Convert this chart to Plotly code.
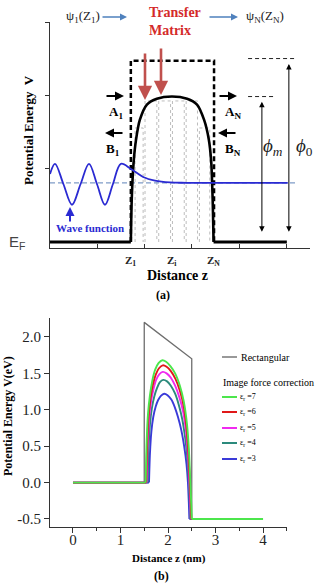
import plotly.graph_objects as go

W, H = 321, 583
SERIF = "Liberation Serif, Times New Roman, serif"


def px(x):
    return x / W


def py(y):
    return 1 - y / H


# ---------------- Panel (a): schematic data ----------------
barrier_z = [1.71, 1.73, 1.77, 1.82, 1.90, 2.05, 2.26, 2.58, 2.90, 3.11, 3.26, 3.36, 3.41, 3.44, 3.46]
barrier_v = [0.0, 0.60, 1.10, 1.40, 1.67, 1.88, 1.96, 1.99, 1.96, 1.88, 1.67, 1.40, 1.10, 0.60, 0.0]
a_left_z = [0.0, 1.71]
a_right_z = [3.46, 5.01]
rect_a_z = [1.71, 1.71, 3.47, 3.47]
rect_a_v = [0.0, 2.48, 2.48, 0.0]
slice_edges = [1.80, 1.99, 2.28, 2.57, 2.86, 3.14, 3.38]
slice_tops = [1.56, 1.93, 1.93, 1.93, 1.93, 1.56]
wave_z = [0.0, 0.106, 0.285, 0.465, 0.645, 0.825, 0.995, 1.163, 1.33, 1.50, 1.71, 1.97, 2.22, 2.54, 2.90, 5.03]
wave_v = [0.93, 1.07, 0.79, 0.51, 0.79, 1.07, 0.79, 0.51, 0.79, 1.07, 1.00, 0.89, 0.84, 0.815, 0.81, 0.81]
energy_level_z = [0.0, 5.22]
energy_level_v = 0.81
phi_m = 1.99
phi_0 = 2.51
z_marks = [1.71, 2.58, 3.45]
z_mark_labels = ["Z<sub>1</sub>", "Z<sub>i</sub>", "Z<sub>N</sub>"]

# ---------------- Panel (b): data ----------------
rect_z = [0.0, 1.5, 1.5, 2.5, 2.5, 4.0]
rect_v = [0.0, 0.0, 2.2, 1.7, -0.5, -0.5]

z_eps7 = [1.53, 1.55, 1.58, 1.62, 1.67, 1.73, 1.80, 1.88, 1.96, 2.05, 2.15, 2.25, 2.33, 2.40, 2.44, 2.47, 2.49, 2.50]
v_eps7 = [0.0, 0.55, 0.95, 1.20, 1.40, 1.55, 1.64, 1.68, 1.66, 1.60, 1.50, 1.33, 1.12, 0.80, 0.45, 0.0, -0.3, -0.5]
z_eps6 = [1.54, 1.56, 1.59, 1.63, 1.68, 1.74, 1.81, 1.89, 1.97, 2.06, 2.16, 2.25, 2.33, 2.39, 2.43, 2.46, 2.48, 2.49]
v_eps6 = [0.0, 0.50, 0.90, 1.15, 1.34, 1.48, 1.57, 1.61, 1.59, 1.53, 1.42, 1.26, 1.05, 0.75, 0.40, 0.0, -0.3, -0.5]
z_eps5 = [1.55, 1.57, 1.60, 1.64, 1.69, 1.75, 1.82, 1.89, 1.97, 2.06, 2.15, 2.24, 2.32, 2.38, 2.42, 2.45, 2.47, 2.48]
v_eps5 = [0.0, 0.48, 0.85, 1.10, 1.27, 1.41, 1.49, 1.52, 1.50, 1.44, 1.33, 1.17, 0.97, 0.70, 0.38, 0.0, -0.3, -0.5]
z_eps4 = [1.57, 1.59, 1.62, 1.66, 1.71, 1.77, 1.83, 1.90, 1.98, 2.06, 2.15, 2.23, 2.30, 2.36, 2.41, 2.44, 2.46, 2.47]
v_eps4 = [0.0, 0.45, 0.80, 1.02, 1.18, 1.30, 1.38, 1.41, 1.39, 1.33, 1.22, 1.06, 0.87, 0.62, 0.32, 0.0, -0.3, -0.5]
z_eps3 = [1.60, 1.62, 1.65, 1.69, 1.74, 1.79, 1.85, 1.92, 1.99, 2.07, 2.14, 2.21, 2.28, 2.34, 2.39, 2.42, 2.44, 2.45]
v_eps3 = [0.0, 0.40, 0.70, 0.90, 1.04, 1.13, 1.19, 1.22, 1.20, 1.14, 1.04, 0.90, 0.72, 0.50, 0.25, 0.0, -0.3, -0.5]

b_z_start = 0.0
b_z_end = 4.0
b_v_left = 0.0
b_v_right = -0.5

eps_labels = ["7", "6", "5", "4", "3"]
eps_colors = ["#4ce64c", "#e01818", "#f02af0", "#2b8a7c", "#3a3ad8"]

xb_tickvals = [0, 1, 2, 3, 4]
yb_tickvals = [-0.5, 0.0, 0.5, 1.0, 1.5, 2.0]
yb_ticktext = ["-0.5", "0.0", "0.5", "1.0", "1.5", "2.0"]

fig = go.Figure()

# ---------- Panel (a) traces ----------
sx, sy = [], []
gap = 0.02
for i, top in enumerate(slice_tops):
    x0 = slice_edges[i] + (gap if i > 0 else 0)
    x1 = slice_edges[i + 1] - (gap if i < len(slice_tops) - 1 else 0)
    sx += [x0, x0, x1, x1, None]
    sy += [0, top, top, 0, None]
fig.add_trace(go.Scatter(x=sx, y=sy, mode="lines", xaxis="x", yaxis="y",
                         line=dict(color="#b4b4b4", width=0.9, dash="dot"), hoverinfo="skip"))
fig.add_trace(go.Scatter(x=energy_level_z, y=[energy_level_v] * 2, mode="lines", xaxis="x", yaxis="y",
                         line=dict(color="#7f9cc8", width=1.2, dash="5px,3px")))
fig.add_trace(go.Scatter(x=rect_a_z, y=rect_a_v, mode="lines", xaxis="x", yaxis="y",
                         line=dict(color="black", width=2.5, dash="5px,3px")))
fig.add_trace(go.Scatter(x=a_left_z, y=[0, 0], mode="lines", xaxis="x", yaxis="y",
                         line=dict(color="black", width=3)))
fig.add_trace(go.Scatter(x=a_right_z, y=[0, 0], mode="lines", xaxis="x", yaxis="y",
                         line=dict(color="black", width=3)))
fig.add_trace(go.Scatter(x=barrier_z, y=barrier_v, mode="lines", xaxis="x", yaxis="y",
                         line=dict(color="black", width=2.6, shape="spline", smoothing=0.8)))
fig.add_trace(go.Scatter(x=wave_z, y=wave_v, mode="lines", xaxis="x", yaxis="y",
                         line=dict(color="#2a2ad2", width=1.8, shape="spline", smoothing=1.0)))
fig.add_trace(go.Scatter(x=[4.19, 5.22], y=[phi_0, phi_0], mode="lines", xaxis="x", yaxis="y",
                         line=dict(color="#222", width=1, dash="4px,3px")))
fig.add_trace(go.Scatter(x=[4.19, 4.78], y=[phi_m, phi_m], mode="lines", xaxis="x", yaxis="y",
                         line=dict(color="#222", width=1, dash="4px,3px")))

# ---------- Panel (b) traces ----------
fig.add_trace(go.Scatter(x=rect_z, y=rect_v, mode="lines", xaxis="x2", yaxis="y2",
                         line=dict(color="#6e6e6e", width=1.3)))
curves = [(z_eps3, v_eps3, 4), (z_eps4, v_eps4, 3), (z_eps5, v_eps5, 2), (z_eps6, v_eps6, 1), (z_eps7, v_eps7, 0)]
for zz, vv, ci in curves:
    col = eps_colors[ci]
    fig.add_trace(go.Scatter(x=[b_z_start, zz[0]], y=[b_v_left, vv[0]], mode="lines", xaxis="x2", yaxis="y2",
                             line=dict(color=col, width=1.9)))
    fig.add_trace(go.Scatter(x=zz, y=vv, mode="lines", xaxis="x2", yaxis="y2",
                             line=dict(color=col, width=1.9, shape="spline", smoothing=0.7)))
    fig.add_trace(go.Scatter(x=[zz[-1], b_z_end], y=[vv[-1], b_v_right], mode="lines", xaxis="x2", yaxis="y2",
                             line=dict(color=col, width=1.9)))

ann = []


def txt(xp, yp, text, size, color="black", bold=False, italic=False, family=SERIF,
        xanchor="center", angle=0):
    t = text
    if bold:
        t = "<b>" + t + "</b>"
    if italic:
        t = "<i>" + t + "</i>"
    ann.append(dict(x=px(xp), y=py(yp), xref="paper", yref="paper",
                    text=t, showarrow=False, xanchor=xanchor, yanchor="middle", textangle=angle,
                    font=dict(family=family, size=size, color=color)))


def arrow(x0, y0, x1, y1, color, width, head=2, size=1.0, both=False):
    # pixel coordinates: from (x0, y0) to tip (x1, y1)
    d = dict(x=px(x1), y=py(y1), xref="paper", yref="paper", ax=x0 - x1, ay=y0 - y1,
             axref="pixel", ayref="pixel", text="",
             showarrow=True, arrowhead=head, arrowsize=size, arrowwidth=width, arrowcolor=color,
             standoff=0, startstandoff=0)
    if both:
        d.update(arrowside="end+start", startarrowhead=head, startarrowsize=size)
    ann.append(d)


def zx(z):
    return 50 + 47.3 * z


def vy(v):
    return 242 - 73.0 * v


# top labels panel (a)
txt(83, 17, "ψ<sub>1</sub>(Z<sub>1</sub>)", 13, color="#222")
txt(265, 17, "ψ<sub>N</sub>(Z<sub>N</sub>)", 13, color="#222")
arrow(101, 17, 127, 17, "#4f81bd", 1.4, head=2, size=1.0)
arrow(208, 17, 238, 17, "#4f81bd", 1.4, head=2, size=1.0)
txt(175, 12, "Transfer", 14, color="#d42a2a", bold=True)
txt(170, 30, "Matrix", 14, color="#d42a2a", bold=True)
# red arrows
arrow(145, 52, 145, 100, "#c0504d", 2.6, head=2, size=1.1)
arrow(161, 47, 161, 95, "#c0504d", 2.6, head=2, size=1.1)
# A/B arrows
arrow(105, 96, 124, 96, "black", 1.8, head=2, size=1.0)
arrow(124, 133, 105, 133, "black", 1.8, head=2, size=1.0)
arrow(218, 96, 237, 96, "black", 1.8, head=2, size=1.0)
arrow(237, 133, 218, 133, "black", 1.8, head=2, size=1.0)
txt(116, 113, "A<sub>1</sub>", 13, bold=True)
txt(113, 149, "B<sub>1</sub>", 13, bold=True)
txt(233, 113, "A<sub>N</sub>", 13, bold=True)
txt(233, 149, "B<sub>N</sub>", 13, bold=True)
# phi arrows
arrow(zx(4.48), vy(0.12), zx(4.48), vy(1.92), "black", 1, head=2, size=1.1, both=True)
arrow(zx(5.05), vy(0.12), zx(5.05), vy(2.44), "black", 1, head=2, size=1.1, both=True)
txt(273, 147, "<i>ϕ</i><sub><i>m</i></sub>", 19, color="#222")
txt(304, 147, "<i>ϕ</i><sub>0</sub>", 19, color="#222")
# wave function label
txt(90, 228, "Wave function", 11, color="#2a2ad2", bold=True)
arrow(70, 223, 70, 207, "#2a2ad2", 2, head=2, size=0.9)
# E_F
txt(17, 242, "E<sub>F</sub>", 15, color="#444", family="Liberation Sans")
# Z labels
for zv, zl in zip(z_marks, z_mark_labels):
    txt(zx(zv), 261, zl, 11, color="#222", bold=True)
txt(178, 275, "Distance z", 14, bold=True)
txt(163, 295, "(a)", 12, bold=True)
txt(28, 130, "Potential Energy  V", 13, bold=True, angle=-90)

# ---------- Panel (b) annotations ----------
txt(8, 416, "Potential Energy V(eV)", 12, bold=True, angle=-90)
txt(169, 558, "Distance z (nm)", 11, bold=True)
txt(162, 576, "(b)", 12, bold=True)

shapes = []
shapes.append(dict(type="line", xref="paper", yref="paper", x0=px(222), x1=px(237), y0=py(357), y1=py(357),
                   line=dict(color="#555", width=1.2)))
txt(239, 357, "Rectangular", 10, xanchor="left")
txt(221, 382, "Image force correction", 10, xanchor="left")
leg_y = [397, 412, 428, 443, 459]
for yy, lab, col in zip(leg_y, eps_labels, eps_colors):
    shapes.append(dict(type="line", xref="paper", yref="paper", x0=px(222), x1=px(237), y0=py(yy), y1=py(yy),
                       line=dict(color=col, width=2)))
    txt(238, yy, "ε<sub>r</sub> =" + lab, 8, xanchor="left")

fig.update_layout(
    width=W, height=H, margin=dict(l=0, r=0, t=0, b=0),
    paper_bgcolor="white", plot_bgcolor="white", showlegend=False,
    annotations=ann, shapes=shapes,
    xaxis=dict(domain=[px(50), px(310)], range=[0, 5.5], anchor="y", showline=True, linecolor="#333",
               linewidth=1, tickvals=[1, 2, 3, 4, 5], ticks="inside", ticklen=4, tickcolor="#333",
               showticklabels=False, showgrid=False, zeroline=False),
    yaxis=dict(domain=[py(248), py(22)], range=[-0.082, 3.01], anchor="x", showline=True, linecolor="#333",
               linewidth=1, tickvals=[1, 2, 3], ticks="outside", ticklen=4, tickcolor="#333",
               showticklabels=False, showgrid=False, zeroline=False),
    xaxis2=dict(domain=[px(50), px(287)], range=[-0.484, 4.505], anchor="y2", showline=True, linecolor="#333",
                linewidth=1, tickvals=xb_tickvals, ticks="outside", ticklen=5, tickcolor="#333",
                ticklabelstandoff=-6,
                minor=dict(tickvals=[-0.5, 0.5, 1.5, 2.5, 3.5, 4.5], ticks="outside", ticklen=3, tickcolor="#333"),
                tickfont=dict(family=SERIF, size=15, color="#222"), showgrid=False, zeroline=False),
    yaxis2=dict(domain=[py(527), py(318)], range=[-0.61, 2.26], anchor="x2", showline=True, linecolor="#333",
                linewidth=1, tickvals=yb_tickvals, ticktext=yb_ticktext, ticks="outside", ticklen=5,
                tickcolor="#333", tickfont=dict(family=SERIF, size=15, color="#222"),
                showgrid=False, zeroline=False),
)

fig.write_html("out.html")
